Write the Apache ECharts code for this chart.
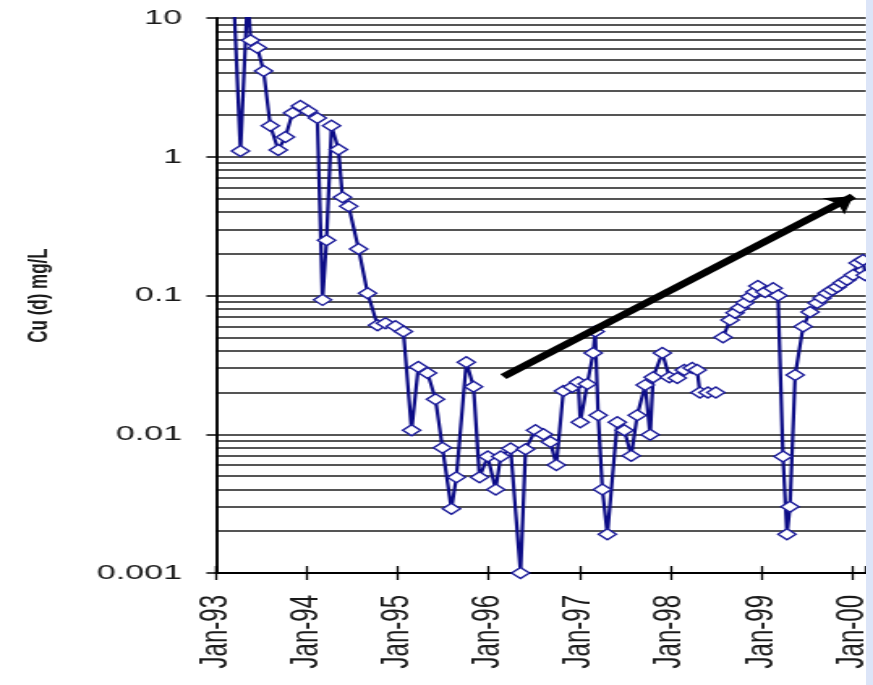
<!DOCTYPE html>
<html>
<head>
<meta charset="utf-8">
<script src="https://cdn.jsdelivr.net/npm/echarts@6/dist/echarts.min.js"></script>
<style>
  html, body { margin: 0; padding: 0; background: #ffffff; }
  #wrap { position: relative; width: 873px; height: 685px; overflow: hidden; background: #ffffff; }
  #chart { position: absolute; left: 0; top: 0; width: 539px; height: 685px; transform: scaleX(1.6197); transform-origin: 0 0; }
  #band { position: absolute; left: 866px; top: 0; width: 7px; height: 685px; background: #dce5f8; }
</style>
</head>
<body>
<div id="wrap"><div id="chart"></div><div id="band"></div></div>
<script>
// ---- data ----
const sampleDates = [
  '1993-03-12','1993-04-09','1993-05-08','1993-05-20','1993-06-16','1993-07-11','1993-08-07','1993-09-08',
  '1993-10-07','1993-11-04','1993-12-06','1994-01-07','1994-02-12','1994-03-05','1994-03-21','1994-04-10',
  '1994-05-08','1994-05-24','1994-06-18','1994-07-28','1994-09-02','1994-10-12','1994-11-13','1994-12-23',
  '1995-01-24','1995-02-26','1995-03-25','1995-05-01','1995-06-02','1995-06-30','1995-08-05','1995-08-25',
  '1995-10-04','1995-11-02','1995-11-26','1995-12-29','1996-01-30','1996-02-19','1996-03-30','1996-05-09',
  '1996-05-29','1996-07-08','1996-08-09','1996-09-06','1996-09-30','1996-10-28','1996-12-03','1996-12-27',
  '1997-01-04','1997-02-01','1997-02-25','1997-03-05','1997-03-17','1997-04-03','1997-04-23','1997-06-02',
  '1997-06-30','1997-07-28','1997-08-21','1997-09-22','1997-10-12','1997-10-24','1997-11-30','1997-12-28',
  '1998-01-29','1998-02-26','1998-03-30','1998-04-19','1998-04-30','1998-06-01','1998-07-03','1998-07-17',
  '1998-08-01','1998-08-29','1998-09-18','1998-10-08','1998-10-28','1998-11-17','1998-12-07','1998-12-19',
  '1999-01-17','1999-02-18','1999-03-10','1999-03-30','1999-04-15','1999-04-27','1999-05-18','1999-06-19',
  '1999-07-17','1999-08-14','1999-09-03','1999-09-23','1999-10-13','1999-11-02','1999-11-22','1999-12-12',
  '2000-01-06','2000-01-26','2000-02-15','2000-02-24'
];
const cuDissolved = [
  15, 1.1, 15, 6.9, 6.1, 4.15, 1.67, 1.12,
  1.39, 2.07, 2.32, 2.14, 1.9, 0.093, 0.25, 1.67,
  1.13, 0.51, 0.44, 0.216, 0.104, 0.061, 0.063, 0.060,
  0.055, 0.0107, 0.0305, 0.0276, 0.0179, 0.0080, 0.0029, 0.0049,
  0.033, 0.022, 0.0049, 0.0069, 0.0040, 0.0069, 0.0079, 0.001,
  0.0078, 0.0107, 0.0100, 0.0088, 0.0060, 0.0205, 0.0219, 0.0237,
  0.0122, 0.023, 0.0385, 0.055, 0.0137, 0.0040, 0.0019, 0.0122,
  0.0107, 0.0070, 0.0137, 0.0226, 0.0099, 0.0258, 0.0385, 0.0258,
  0.0254, 0.029, 0.030, 0.029, 0.0200, 0.0200, 0.0200, null,
  0.050, 0.0666, 0.075, 0.0817, 0.0885, 0.098, 0.106, 0.117,
  0.106, 0.113, 0.100, 0.0069, 0.0019, 0.0030, 0.0267, 0.0597,
  0.076, 0.0883, 0.096, 0.104, 0.1096, 0.115, 0.123, 0.130,
  0.1406, 0.1715, 0.180, 0.14
];
const trendArrowStart = ['1996-03-01', 0.026];
const trendArrowEnd = ['2000-01-06', 0.52];
const xRange = ['1993-01-01', '2000-02-27'];
const yRange = [0.001, 10];
const yAxisTitle = 'Cu (d) mg/L';
const monthAbbr = 'Jan';

// ---- chart ----
const seriesData = sampleDates.map((d, i) => [d, cuDissolved[i] === null ? '-' : cuDissolved[i]]);
const YEAR = 365 * 24 * 3600 * 1000;
const fontFam = '"Liberation Sans", Arial, sans-serif';

function yearLabel(val) {
  const d = new Date(val);
  if (d.getMonth() !== 0) return '';
  return monthAbbr + '-' + String(d.getFullYear()).slice(2);
}

const chart = echarts.init(document.getElementById('chart'), null, { renderer: 'canvas' });
chart.setOption({
  animation: false,
  backgroundColor: '#ffffff',
  grid: { left: 133.4, right: 4.3, top: 18, bottom: 112, containLabel: false },
  xAxis: [
    {
      type: 'time', min: xRange[0], max: xRange[1], position: 'bottom',
      minInterval: YEAR, maxInterval: YEAR * 1.01, splitNumber: 8,
      axisLine: { show: true, lineStyle: { color: '#000', width: 1.8 } },
      axisTick: { show: true, inside: false, length: 7, lineStyle: { color: '#000', width: 1.3 } },
      axisLabel: { rotate: 90, margin: 22, fontSize: 24, color: '#1a1a1a', fontFamily: fontFam, formatter: yearLabel, hideOverlap: false },
      splitLine: { show: false }
    },
    {
      type: 'time', min: xRange[0], max: xRange[1], position: 'top', offset: -555,
      minInterval: YEAR, maxInterval: YEAR * 1.01, splitNumber: 8,
      axisLine: { show: false },
      axisTick: { show: true, inside: false, length: 7, lineStyle: { color: '#000', width: 1.3 } },
      axisLabel: { show: false },
      splitLine: { show: false }
    }
  ],
  yAxis: {
    type: 'log', logBase: 10, min: yRange[0], max: yRange[1], splitNumber: 4,
    name: yAxisTitle, nameLocation: 'middle', nameGap: 101,
    nameTextStyle: { fontSize: 17, fontWeight: 'bold', color: '#1a1a1a', fontFamily: fontFam },
    axisLine: { show: true, lineStyle: { color: '#000', width: 1.9 } },
    axisTick: { show: true, inside: false, length: 6, lineStyle: { color: '#000', width: 1.5 } },
    axisLabel: { margin: 21, fontSize: 21, color: '#1a1a1a', fontFamily: fontFam,
      formatter: v => String(Number(Number(v).toPrecision(1))) },
    splitLine: { show: true, lineStyle: { color: '#1e1e1e', width: 1.5 } },
    minorTick: { show: false, splitNumber: 9 },
    minorSplitLine: { show: true, lineStyle: { color: '#1e1e1e', width: 1.5 } }
  },
  series: [{
    type: 'line',
    xAxisIndex: 0,
    data: seriesData,
    connectNulls: false,
    clip: true,
    symbol: 'diamond',
    symbolSize: 11,
    showAllSymbol: true,
    lineStyle: { color: '#0c0c86', width: 2.2 },
    itemStyle: { color: '#ffffff', borderColor: '#1c1c9a', borderWidth: 1.4 },
    emphasis: { disabled: true },
    markLine: {
      silent: true,
      symbol: ['none', 'arrow'],
      symbolSize: 16,
      label: { show: false },
      lineStyle: { color: '#000', width: 6, type: 'solid' },
      emphasis: { disabled: true },
      data: [[{ coord: trendArrowStart }, { coord: trendArrowEnd }]]
    }
  }]
});
</script>
</body>
</html>
